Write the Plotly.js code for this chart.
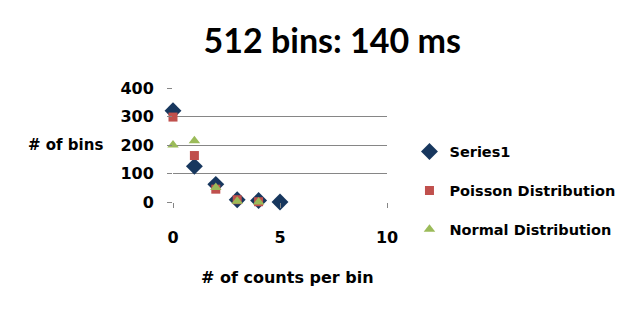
<!DOCTYPE html>
<html><head><meta charset="utf-8">
<script src="https://cdn.plot.ly/plotly-3.0.1.min.js"></script>
<style>body{margin:0;background:#fff}#c{width:639px;height:314px}</style>
</head><body><div id="c"></div>
<script>
const countsPerBin = [0, 1, 2, 3, 4, 5];
const series1 = [320, 125, 62, 8, 5, 0];
const poissonX = [0, 1, 2, 3, 4];
const poisson = [298, 163, 45, 8, 1];
const normalX = [0, 1, 2, 3, 4];
const normal = [200, 215, 51, 3, 0];
const F = 'Lato, "Open Sans", sans-serif';
const V = '"DejaVu Sans", Verdana, sans-serif';
const traces = [
  {x: countsPerBin, y: series1, name: 'Series1', type: 'scatter', mode: 'markers', legendgroup: 'a', cliponaxis: false,
   marker: {symbol: 'diamond', size: 13, color: '#17375E'}},
  {x: poissonX, y: poisson, name: 'Poisson Distribution', type: 'scatter', mode: 'markers', legendgroup: 'b', cliponaxis: false,
   marker: {symbol: 'square', size: 9, color: '#C0504D'}},
  {x: normalX, y: normal, name: 'Normal Distribution', type: 'scatter', mode: 'markers', legendgroup: 'c', cliponaxis: false,
   marker: {symbol: 'triangle-up', size: 10, color: '#9BBB59'}}
];
const layout = {
  width: 639, height: 314,
  margin: {l: 173, r: 252, t: 88, b: 112},
  paper_bgcolor: '#fff', plot_bgcolor: '#fff',
  font: {family: V, color: '#000', size: 14, weight: 'bold'},
  title: {text: '<b>512 bins: 140 ms</b>', x: 0.52, xanchor: 'center', y: 0.87, yanchor: 'middle',
          font: {family: F, size: 34, color: '#000'}},
  xaxis: {range: [0, 10], tickvals: [0, 5, 10], showgrid: false, zeroline: false, showline: false,
          ticks: 'outside', ticklen: 5, tickcolor: '#868686', ticklabelstandoff: 16,
          tickfont: {family: V, size: 16, weight: 'bold'}},
  yaxis: {range: [0, 400], tickvals: [0, 100, 200, 300, 400], showgrid: true, gridcolor: '#868686', gridwidth: 1,
          zeroline: false, showline: false, ticks: 'outside', ticklen: 5, tickcolor: '#868686', ticklabelstandoff: 10,
          tickfont: {family: V, size: 16, weight: 'bold'}},
  legend: {x: 1.105, xanchor: 'left', y: 0.1, yanchor: 'middle', font: {family: V, size: 14.5, weight: 'bold'},
           tracegroupgap: 17, bgcolor: 'rgba(0,0,0,0)'},
  showlegend: true,
  annotations: [
    {text: '<b># of bins</b>', xref: 'paper', yref: 'paper', x: -0.318, y: 0.5, xanchor: 'right', yanchor: 'middle',
     showarrow: false, font: {family: V, size: 15, color: '#000'}},
    {text: '<b># of counts per bin</b>', xref: 'paper', yref: 'paper', x: 0.533, y: -0.66, xanchor: 'center', yanchor: 'middle',
     showarrow: false, font: {family: V, size: 16, color: '#000'}}
  ]
};
Plotly.newPlot('c', traces, layout, {displayModeBar: false, staticPlot: true});
</script></body></html>
